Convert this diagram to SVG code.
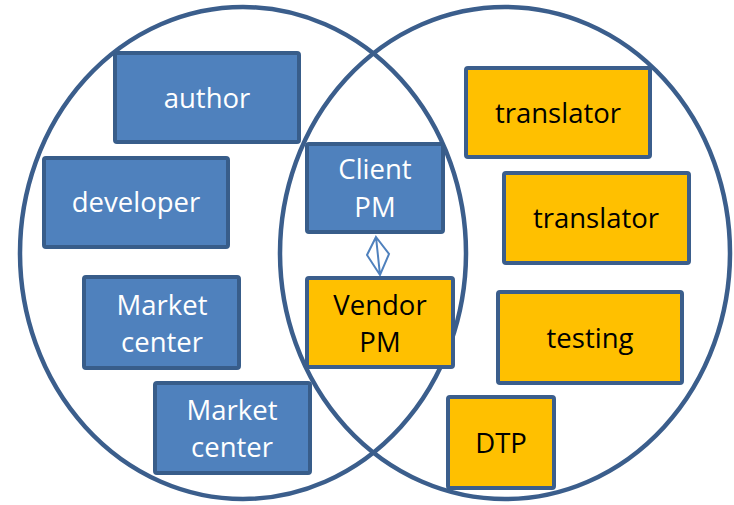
<svg xmlns="http://www.w3.org/2000/svg" width="734" height="505" viewBox="0 0 734 505">
<style>
.ring{fill:none;stroke:#3B5E8C;stroke-width:4.5}
.blue{fill:#4F81BD;stroke:#385D8A;stroke-width:4}
.orange{fill:#FFC000;stroke:#3B5E8C;stroke-width:4}
text{font-family:"Open Sans","Liberation Sans",sans-serif;font-size:27.5px;text-anchor:middle}
.w{fill:#FFFFFF}
.k{fill:#000000}
.conn{fill:none;stroke:#4F81BD;stroke-width:2;stroke-linejoin:miter}
</style>
<rect width="734" height="505" fill="#FFFFFF"/>
<g id="groups">
<ellipse id="client-side" class="ring" cx="243" cy="253" rx="223" ry="246"/>
<ellipse id="vendor-side" class="ring" cx="505" cy="253" rx="225" ry="246"/>
</g>
<g id="connectors">
<path class="conn" d="M376,237 L389,254 L380,275 L367,255 Z M376,237 L380,275"/>
</g>
<g id="author"><rect class="blue" x="115" y="53" width="184" height="89" rx="2"/><text class="w" x="207" y="108">author</text></g>
<g id="developer"><rect class="blue" x="44" y="158" width="184" height="89" rx="2"/><text class="w" x="136" y="212">developer</text></g>
<g id="client-pm"><rect class="blue" x="307" y="144" width="136" height="88" rx="2"/><text class="w" x="375" y="179">Client</text><text class="w" x="375" y="217">PM</text></g>
<g id="vendor-pm"><rect class="orange" x="307" y="278" width="146" height="89" rx="2"/><text class="k" x="380" y="315">Vendor</text><text class="k" x="380" y="352">PM</text></g>
<g id="market-center-1"><rect class="blue" x="84" y="277" width="155" height="91" rx="2"/><text class="w" x="162" y="315">Market</text><text class="w" x="162" y="352">center</text></g>
<g id="market-center-2"><rect class="blue" x="155" y="383" width="155" height="90" rx="2"/><text class="w" x="232" y="420">Market</text><text class="w" x="232" y="457">center</text></g>
<g id="translator-1"><rect class="orange" x="466" y="68" width="184" height="89" rx="2"/><text class="k" x="558" y="123">translator</text></g>
<g id="translator-2"><rect class="orange" x="504" y="173" width="185" height="90" rx="2"/><text class="k" x="596" y="228">translator</text></g>
<g id="testing"><rect class="orange" x="498" y="292" width="184" height="91" rx="2"/><text class="k" x="590" y="348">testing</text></g>
<g id="dtp"><rect class="orange" x="448" y="397" width="106" height="91" rx="2"/><text class="k" x="501" y="453">DTP</text></g>
</svg>
